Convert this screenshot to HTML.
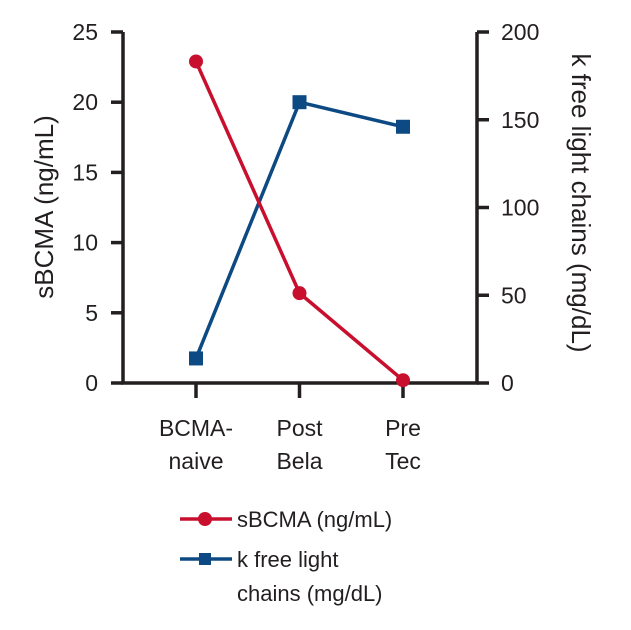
<!DOCTYPE html>
<html><head><meta charset="utf-8"><style>
body{margin:0;background:#fff;}
svg text{font-family:"Liberation Sans",sans-serif;fill:#231f20;}
</style></head><body>
<svg id="chart" width="631" height="625" viewBox="0 0 631 625">
<g id="axes"></g><g id="marks"></g>
<g>
 <g>
  <line x1="180" y1="519" x2="232" y2="519" stroke="#c8102e" stroke-width="3.5"/>
  <circle cx="205" cy="519" r="7" fill="#c8102e"/>
  <text x="237" y="527" font-size="22">sBCMA (ng/mL)</text>
 </g>
 <g>
  <line x1="180" y1="559" x2="232" y2="559" stroke="#0d4a84" stroke-width="3.5"/>
  <rect x="199" y="553" width="12" height="12" fill="#0d4a84"/>
  <text x="237" y="567" font-size="22">k free light</text>
  <text x="237" y="601" font-size="22">chains (mg/dL)</text>
 </g>
</g>
</svg>
<script>
const categories=[["BCMA-","naive"],["Post","Bela"],["Pre","Tec"]];
const sbcma=[22.9,6.4,0.2];
const kflc=[14,160,146];
const leftTicks=[0,5,10,15,20,25];
const rightTicks=[0,50,100,150,200];
const NS="http://www.w3.org/2000/svg";
const X0=123,X1=477,Y0=383,Y1=32;
const xs=i=>196+i*103.5;
const yL=v=>Y0-(v/25)*(Y0-Y1);
const yR=v=>Y0-(v/200)*(Y0-Y1);
function mk(tag,attrs,parent,txt){const e=document.createElementNS(NS,tag);for(const k in attrs)e.setAttribute(k,attrs[k]);if(txt!==undefined)e.textContent=txt;parent.appendChild(e);return e;}
const ax=document.getElementById('axes'),mg=document.getElementById('marks');
const st={stroke:"#231f20","stroke-width":3.5,fill:"none"};
let e;
e=mk('path',Object.assign({d:`M${X0},${Y1} V${Y0} H${X1} V${Y1}`},st),ax);


leftTicks.forEach(v=>{const y=yL(v);
 mk('line',Object.assign({x1:111,x2:X0,y1:y,y2:y},st),ax);
 e=mk('text',{x:98,y:y+8,"font-size":23,"text-anchor":"end"},ax,String(v));
 
 });
rightTicks.forEach(v=>{const y=yR(v);
 mk('line',Object.assign({x1:X1,x2:489,y1:y,y2:y},st),ax);
 e=mk('text',{x:501,y:y+8,"font-size":23},ax,String(v));
 
 });
categories.forEach((c,i)=>{const x=xs(i);
 mk('line',Object.assign({x1:x,x2:x,y1:Y0,y2:398},st),ax);
 e=mk('text',{x:x,y:436,"font-size":23,"text-anchor":"middle"},ax);
 
 
 mk('tspan',{x:x},e,c[0]);mk('tspan',{x:x,dy:33},e,c[1]);});
e=mk('text',{transform:"translate(53,207) rotate(-90)","font-size":26,"text-anchor":"middle"},ax,"sBCMA (ng/mL)");


e=mk('text',{transform:"translate(572,203) rotate(90)","font-size":26,"text-anchor":"middle"},ax,"k free light chains (mg/dL)");


e=mk('polyline',{points:kflc.map((v,i)=>xs(i)+","+yR(v)).join(" "),fill:"none",stroke:"#0d4a84","stroke-width":3.5},mg);


kflc.forEach((v,i)=>{e=mk('rect',{x:xs(i)-7,y:yR(v)-7,width:14,height:14,fill:"#0d4a84"},mg);
 
 });
e=mk('polyline',{points:sbcma.map((v,i)=>xs(i)+","+yL(v)).join(" "),fill:"none",stroke:"#c8102e","stroke-width":3.5},mg);


sbcma.forEach((v,i)=>{e=mk('circle',{cx:xs(i),cy:yL(v),r:7,fill:"#c8102e"},mg);
 
 });
</script>
</body></html>
